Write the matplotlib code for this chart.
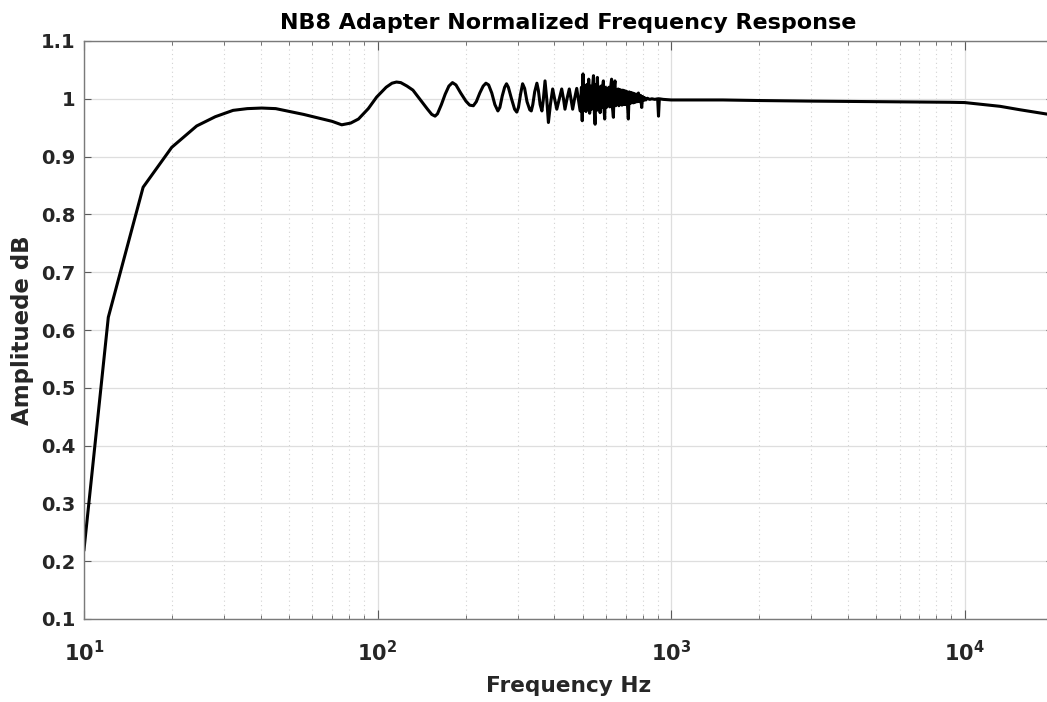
import math
import matplotlib
matplotlib.use("Agg")
import matplotlib.pyplot as plt
from matplotlib.ticker import LogLocator, FuncFormatter, NullLocator, FixedLocator

plt.rcParams['font.family'] = ['DejaVu Sans']
plt.rcParams['mathtext.fontset'] = 'dejavusans'

# low end roll-off (Hz / normalized amplitude)
freq_low = [10, 12.1, 15.9, 19.9, 24.2, 28, 32.2, 36, 40.3, 45,
            50.3, 56, 63.7, 70, 75.5, 81, 86.1, 93]
amp_low = [0.220, 0.622, 0.847, 0.916, 0.953, 0.969, 0.980, 0.983, 0.984, 0.983,
           0.978, 0.973, 0.966, 0.961, 0.955, 0.958, 0.965, 0.983]

# ripple between ~100 and ~500 Hz
freq_ripple = [99.3, 107, 112, 116, 120, 126, 132, 140, 148, 153,
               157, 160, 165, 170, 175, 180, 185, 192, 200, 206,
               212, 217, 223, 229, 234, 239, 245, 251, 257, 261,
               266, 271, 275, 279, 286, 293, 298, 302, 307, 312,
               317, 323, 330, 334, 338, 343, 349, 353, 358, 363,
               367, 372, 377, 382, 388, 395, 401, 408, 416, 424,
               430, 435, 442, 450, 456, 462, 469, 477, 483, 490]
amp_ripple = [1.003, 1.020, 1.027, 1.029, 1.028, 1.022, 1.015, 0.998, 0.982, 0.973,
              0.970, 0.974, 0.990, 1.008, 1.022, 1.028, 1.024, 1.010, 0.996, 0.989,
              0.988, 0.995, 1.010, 1.022, 1.027, 1.024, 1.010, 0.990, 0.979, 0.985,
              1.005, 1.020, 1.026, 1.020, 1.000, 0.982, 0.977, 0.985, 1.008, 1.026,
              1.018, 0.995, 0.981, 0.979, 0.990, 1.012, 1.027, 1.015, 0.990, 0.979,
              0.998, 1.031, 1.000, 0.959, 0.990, 1.017, 1.000, 0.982, 1.000, 1.017,
              1.000, 0.982, 1.000, 1.017, 1.000, 0.982, 1.000, 1.018, 1.000, 0.979]

# noisy band ~500 Hz to 1 kHz
freq_dense = [495, 498, 501, 505, 509, 513, 517, 521, 524, 528,
              532, 536, 540, 544, 548, 551, 555, 558, 561, 565,
              569, 573, 577, 581, 584, 588, 591, 594, 598, 602,
              606, 610, 614, 618, 622, 627, 631, 636, 640, 644,
              648, 652, 656, 660, 664, 668, 672, 676, 680, 685,
              690, 695, 700, 705, 710, 715, 720, 725, 730, 735,
              740, 745, 750, 756, 762, 768, 774, 780, 787, 794,
              800, 806, 812, 820, 830, 845, 860, 880, 900, 906,
              912, 940]
amp_dense = [1.020, 0.962, 1.043, 0.980, 1.022, 0.978, 1.025, 0.985, 1.034, 0.975,
             1.022, 0.982, 1.020, 1.040, 0.975, 0.956, 1.025, 0.980, 1.037, 0.982,
             1.020, 0.976, 1.022, 0.985, 1.018, 1.031, 0.982, 0.965, 1.020, 0.985,
             1.018, 0.988, 1.020, 0.986, 1.018, 1.034, 0.986, 0.968, 1.020, 1.031,
             0.988, 1.016, 0.990, 1.017, 0.988, 1.016, 0.990, 1.015, 0.989, 1.015,
             0.990, 1.014, 0.990, 1.013, 0.991, 0.965, 1.012, 0.992, 1.011, 0.993,
             1.010, 0.993, 1.009, 0.994, 1.008, 0.995, 1.010, 0.995, 1.006, 0.985,
             1.004, 0.997, 1.002, 0.998, 1.001, 0.999, 1.000, 0.999, 1.000, 0.970,
             1.000, 0.999]

# flat top and high end
freq_flat = [1000, 1500, 2000, 3000, 4040, 6000, 8900, 10000, 13200, 15450, 18800, 20000]
amp_flat = [0.998, 0.998, 0.997, 0.996, 0.9955, 0.995, 0.994, 0.9935, 0.987, 0.981, 0.974, 0.972]

y_ticks = [0.1, 0.2, 0.3, 0.4, 0.5, 0.6, 0.7, 0.8, 0.9, 1.0, 1.1]

freq_hz = freq_low + freq_ripple + freq_dense + freq_flat
amplitude = amp_low + amp_ripple + amp_dense + amp_flat

fig = plt.figure(figsize=(10.47, 7.02), dpi=100)
ax = fig.add_axes([84 / 1047, 83 / 702, (1053 - 84) / 1047, 578 / 702])

ax.semilogx(freq_hz, amplitude, color='black', lw=2.2)

ax.set_xlim(10, 20000)
ax.set_ylim(0.1, 1.1)
ax.xaxis.set_major_locator(LogLocator(base=10))
ax.xaxis.set_minor_locator(LogLocator(base=10, subs=range(2, 10)))
ax.xaxis.set_major_formatter(
    FuncFormatter(lambda v, p: r'$\mathbf{10^{%d}}$' % round(math.log10(v))))
ax.yaxis.set_major_locator(FixedLocator(y_ticks))
ax.yaxis.set_minor_locator(NullLocator())
ax.set_yticklabels(['%g' % t for t in y_ticks])

ax.grid(which='major', color='#dedede', lw=0.9)
ax.xaxis.grid(which='minor', color='#d2d2d2', lw=0.8, linestyle=(0, (1, 3)))
ax.set_axisbelow(True)

for s in ax.spines.values():
    s.set_color('#7a7a7a')
    s.set_linewidth(1.0)
ax.tick_params(which='both', direction='in', top=True, right=True,
               color='#5a5a5a', labelcolor='#262626')
ax.tick_params(axis='x', which='major', length=6.5, labelsize=15, pad=15)
ax.tick_params(axis='x', which='minor', length=3)
ax.tick_params(axis='y', which='major', length=5, labelsize=14, pad=6)
for lab in ax.get_yticklabels():
    lab.set_fontweight('bold')

ax.set_title('NB8 Adapter Normalized Frequency Response', fontsize=16,
             fontweight='bold', pad=8.6)
ax.set_xlabel('Frequency Hz', fontsize=15.6, fontweight='bold', color='#262626', labelpad=8)
ax.set_ylabel('Amplituede dB', fontsize=16.5, fontweight='bold', color='#262626', labelpad=5)

fig.savefig('out.png', dpi=100)
